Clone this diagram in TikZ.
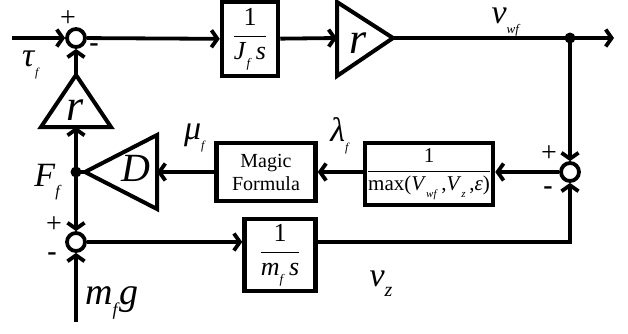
\documentclass[tikz,border=0pt]{standalone}
\usepackage{fontspec}
\setmainfont{Liberation Serif}
\usetikzlibrary{arrows.meta}

\newcommand{\subf}[2]{\raisebox{-0.3em}{\fontsize{#1}{#1}\selectfont\textit{#2}}}
\newcommand{\bfrac}[2]{$\displaystyle\frac{\mbox{#1}}{\mbox{#2}}$}

\begin{document}
\begin{tikzpicture}[x=1pt,y=-1pt,>={Straight Barb[length=6pt,width=17pt]},
  sig/.style={line width=3.8pt,->},
  wire/.style={line width=3.8pt},
  tri/.style={line width=4pt,line join=miter},
  blk/.style={draw,line width=4.5pt,inner sep=1pt,align=center},
  sumpt/.style={circle,draw,line width=3.8pt,minimum size=18pt,inner sep=0pt},
  lab/.style={inner sep=0pt,font=\fontsize{34}{34}\selectfont},
  sgn/.style={inner sep=0pt,font=\fontsize{28}{28}\selectfont}]
\useasboundingbox (0,0) rectangle (628,333);
% summing points
\node[sumpt] (s1) at (76,38) {};
\node[sumpt] (s3) at (570,172) {};
\node[sumpt] (s2) at (76,242) {};
% blocks
\node[blk,minimum width=56pt,minimum height=74pt,font=\fontsize{26}{28}\selectfont]
  (jbox) at (250,39) {\bfrac{1}{\textit{J}\subf{13}{f}\,\textit{s}}};
\node[blk,minimum width=99pt,minimum height=58pt,font=\fontsize{20}{23}\selectfont]
  (magic) at (266,172) {Magic\\Formula};
\node[blk,minimum width=128pt,minimum height=62pt,font=\fontsize{21}{24}\selectfont]
  (maxbox) at (429,174) {\bfrac{1}{max(\textit{V}\subf{11}{wf}\,,\textit{V}\subf{11}{z}\,,\textit{ε})}};
\node[blk,minimum width=71pt,minimum height=72pt,font=\fontsize{26}{28}\selectfont]
  (mz) at (280,255) {\bfrac{1}{\textit{m}\subf{13}{f}\,\textit{s}}};
% gains
\draw[tri] (337,2) -- (393,38) -- (337,76) -- cycle;
\coordinate (rin) at (337,38);
\coordinate (rout) at (393,38);
\node[inner sep=0pt,font=\fontsize{44}{44}\selectfont] (rtop) at (358,43) {\textit{r}};
\draw[tri] (41,127) -- (76,75) -- (111,127) -- cycle;
\coordinate (rfbin) at (76,127);
\coordinate (rfbout) at (76,75);
\node[inner sep=0pt,font=\fontsize{44}{44}\selectfont] (rfb) at (75,110) {\textit{r}};
\draw[tri] (157,135) -- (85,172) -- (157,209) -- cycle;
\coordinate (din) at (157,172);
\coordinate (dout) at (85,172);
\node[inner sep=0pt,font=\fontsize{40}{40}\selectfont] (dlab) at (136,168) {\textit{D}};
% branch points and ends
\coordinate (tauin) at (12,38);
\coordinate (vout) at (614,38);
\coordinate (vwf) at (570,38);
\coordinate (ff) at (76,172);
\coordinate (mgin) at (76,322);
% connectors
\draw[sig] (tauin) -- (s1);
\draw[sig] (s1) -- (jbox);
\draw[sig] (jbox) -- (rin);
\draw[sig] (rout) -- (vout);
\fill (vwf) circle (5.5pt);
\draw[sig] (vwf) -- (s3);
\draw[sig] (s3.west) -- (s3.west -| maxbox.east);
\draw[sig] (maxbox.west |- magic) -- (magic);
\draw[sig] (magic) -- (din);
\draw[wire] (dout) -- (ff);
\fill (ff) circle (5.5pt);
\draw[sig] (ff) -- (rfbin);
\draw[sig] (rfbout) -- (s1);
\draw[sig] (ff) -- (s2);
\draw[sig] (mgin) -- (s2);
\draw[sig] (s2) -- (s2 -| mz.west);
\draw[sig] (s2 -| mz.east) -| (s3);
% signs
\node[sgn] (p1) at (68,19) {+};
\node[sgn] (m1) at (94,48) {\textbf{-}};
\node[sgn] (p3) at (549,154) {+};
\node[sgn] (m3) at (548,191) {\textbf{-}};
\node[sgn] (p2) at (54,225) {+};
\node[sgn] (m2) at (52,257) {\textbf{-}};
% signal labels
\node[lab] (tau) at (31,65) {\textit{τ}\subf{12}{f}};
\node[lab] (vwflab) at (506,22) {\textit{v}\subf{13}{wf}};
\node[lab] (lam) at (340,136) {\textit{λ}\subf{12}{f}};
\node[lab] (mu) at (195,138) {\textit{μ}\subf{12}{f}};
\node[lab] (Ff) at (48,182) {\textit{F}\subf{16}{f}};
\node[lab,font=\fontsize{38}{38}\selectfont] (mg) at (112,303) {\textit{m}\subf{18}{f}\textit{g}};
\node[lab] (vz) at (381,284) {\textit{v}\subf{20}{z}};
\end{tikzpicture}
\end{document}
